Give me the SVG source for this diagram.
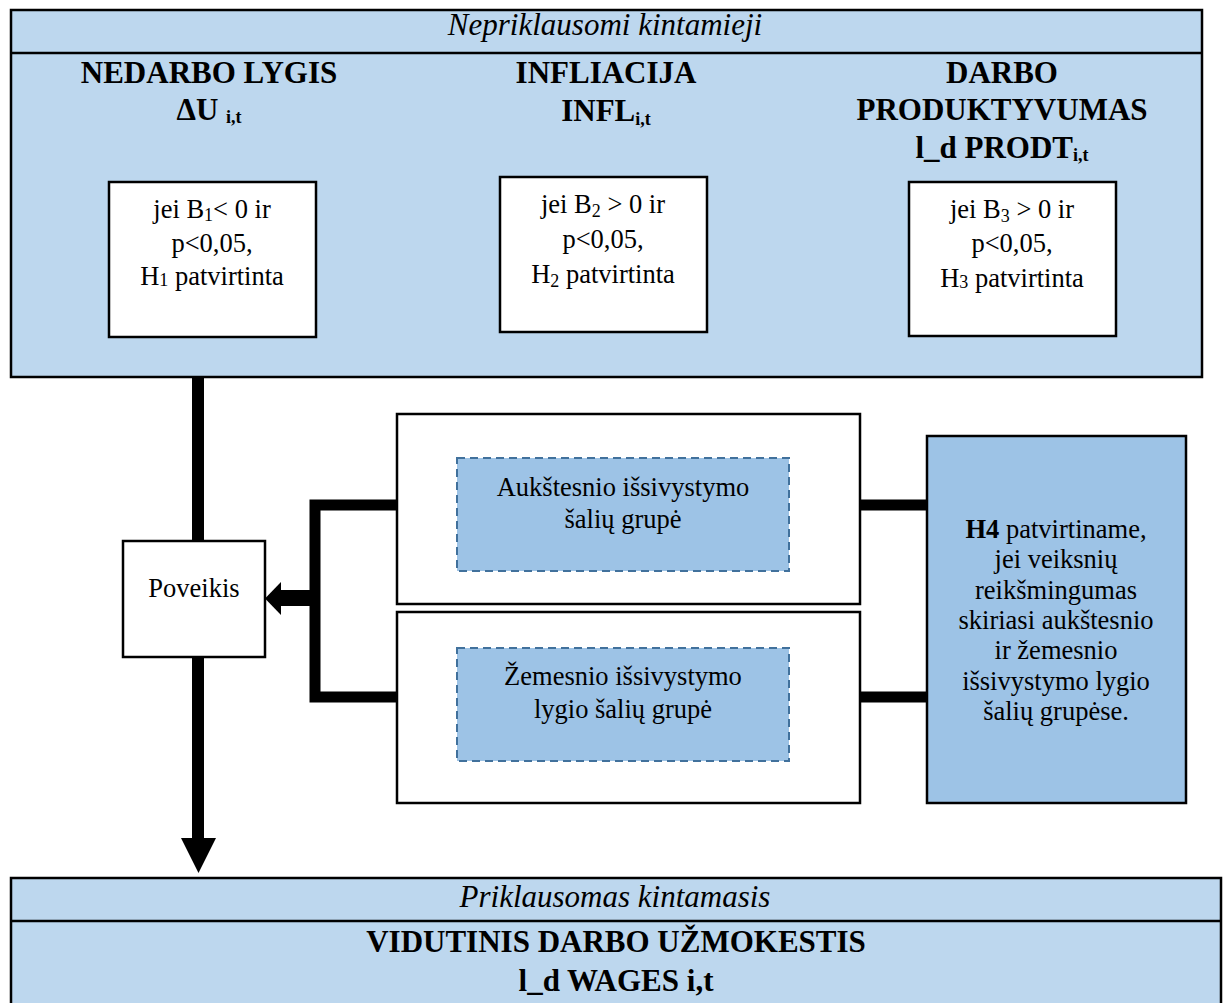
<svg xmlns="http://www.w3.org/2000/svg" width="1226" height="1003" viewBox="0 0 1226 1003" font-family="Liberation Serif, serif">
<style>
.t{fill:#000;text-anchor:middle}
.reg{font-size:26.5px}
.bold{font-size:31px;font-weight:bold}
.ital{font-size:31px;font-style:italic}
.panel{fill:#BDD7EE;stroke:#000;stroke-width:2.5}
.wbox{fill:#fff;stroke:#000;stroke-width:2.5}
.dash{fill:#9DC3E6;stroke:#41719C;stroke-width:2;stroke-dasharray:8 5}
.h4{fill:#9DC3E6;stroke:#000;stroke-width:2.5}
.conn{stroke:#000;fill:none;stroke-linecap:butt}
.sub{font-size:18px}
</style>
<g id="independent">
<rect class="panel" x="11" y="10" width="1191" height="367"/>
<line x1="11" y1="53" x2="1202" y2="53" stroke="#000" stroke-width="2.5"/>
<text class="t ital" x="605" y="35">Nepriklausomi kintamieji</text>
</g>
<g id="unemployment">
<text class="t bold" x="209" y="83">NEDARBO LYGIS</text>
<text class="t bold" x="209" y="120">ΔU <tspan class="sub" dy="3">i,t</tspan></text>
<rect class="wbox" x="109" y="182" width="207" height="155"/>
<text class="t reg" x="212" y="218">jei B<tspan class="sub" dy="3">1</tspan><tspan dy="-3">&lt; 0 ir</tspan></text>
<text class="t reg" x="212" y="252">p&lt;0,05,</text>
<text class="t reg" x="212" y="285">H<tspan class="sub" dy="1">1</tspan><tspan dy="-1"> patvirtinta</tspan></text>
</g>
<g id="inflation">
<text class="t bold" x="606" y="83">INFLIACIJA</text>
<text class="t bold" x="606" y="121">INFL<tspan class="sub" dy="4">i,t</tspan></text>
<rect class="wbox" x="500" y="177" width="207" height="155"/>
<text class="t reg" x="603" y="213">jei B<tspan class="sub" dy="4">2</tspan><tspan dy="-4"> &gt; 0 ir</tspan></text>
<text class="t reg" x="603" y="248">p&lt;0,05,</text>
<text class="t reg" x="603" y="283">H<tspan class="sub" dy="4">2</tspan><tspan dy="-4"> patvirtinta</tspan></text>
</g>
<g id="productivity">
<text class="t bold" x="1002" y="83">DARBO</text>
<text class="t bold" x="1002" y="120">PRODUKTYVUMAS</text>
<text class="t bold" x="1002" y="158">l_d PRODT<tspan class="sub" dy="3">i,t</tspan></text>
<rect class="wbox" x="909" y="182" width="207" height="154"/>
<text class="t reg" x="1012" y="218">jei B<tspan class="sub" dy="4">3</tspan><tspan dy="-4"> &gt; 0 ir</tspan></text>
<text class="t reg" x="1012" y="252">p&lt;0,05,</text>
<text class="t reg" x="1012" y="287">H<tspan class="sub" dy="1">3</tspan><tspan dy="-1"> patvirtinta</tspan></text>
</g>
<g id="connectors">
<line class="conn" x1="198" y1="377" x2="198" y2="541" stroke-width="12"/>
<line class="conn" x1="198" y1="657" x2="198" y2="840" stroke-width="12"/>
<polygon points="181,838 216,838 198.5,873" fill="#000"/>
<path class="conn" d="M397,505 H315 V697 H397" stroke-width="11"/>
<line class="conn" x1="315" y1="598" x2="279" y2="598" stroke-width="16"/>
<polygon points="281,582 281,615 265,598.5" fill="#000"/>
<line class="conn" x1="860" y1="505" x2="927" y2="505" stroke-width="11"/>
<line class="conn" x1="860" y1="697" x2="927" y2="697" stroke-width="11"/>
</g>
<g id="poveikis">
<rect class="wbox" x="123" y="541" width="142" height="116"/>
<text class="t reg" x="194" y="597">Poveikis</text>
</g>
<g id="higher-group">
<rect class="wbox" x="397" y="414" width="463" height="190"/>
<rect class="dash" x="457" y="458" width="332" height="113"/>
<text class="t reg" x="623" y="496">Aukštesnio išsivystymo</text>
<text class="t reg" x="623" y="528">šalių grupė</text>
</g>
<g id="lower-group">
<rect class="wbox" x="397" y="612" width="463" height="191"/>
<rect class="dash" x="457" y="648" width="332" height="113"/>
<text class="t reg" x="623" y="685">Žemesnio išsivystymo</text>
<text class="t reg" x="623" y="718">lygio šalių grupė</text>
</g>
<g id="h4">
<rect class="h4" x="927" y="436" width="259" height="367"/>
<text class="t reg" x="1056" y="538"><tspan font-weight="bold">H4</tspan> patvirtiname,</text>
<text class="t reg" x="1056" y="568">jei veiksnių</text>
<text class="t reg" x="1056" y="599">reikšmingumas</text>
<text class="t reg" x="1056" y="629">skiriasi aukštesnio</text>
<text class="t reg" x="1056" y="659">ir žemesnio</text>
<text class="t reg" x="1056" y="690">išsivystymo lygio</text>
<text class="t reg" x="1056" y="720">šalių grupėse.</text>
</g>
<g id="dependent">
<rect class="panel" x="11" y="878" width="1210" height="140"/>
<line x1="11" y1="921" x2="1221" y2="921" stroke="#000" stroke-width="2.5"/>
<text class="t ital" x="615" y="907">Priklausomas kintamasis</text>
<text class="t bold" x="616" y="952">VIDUTINIS DARBO UŽMOKESTIS</text>
<text class="t bold" x="616" y="991">l_d WAGES i,t</text>
</g>
</svg>
